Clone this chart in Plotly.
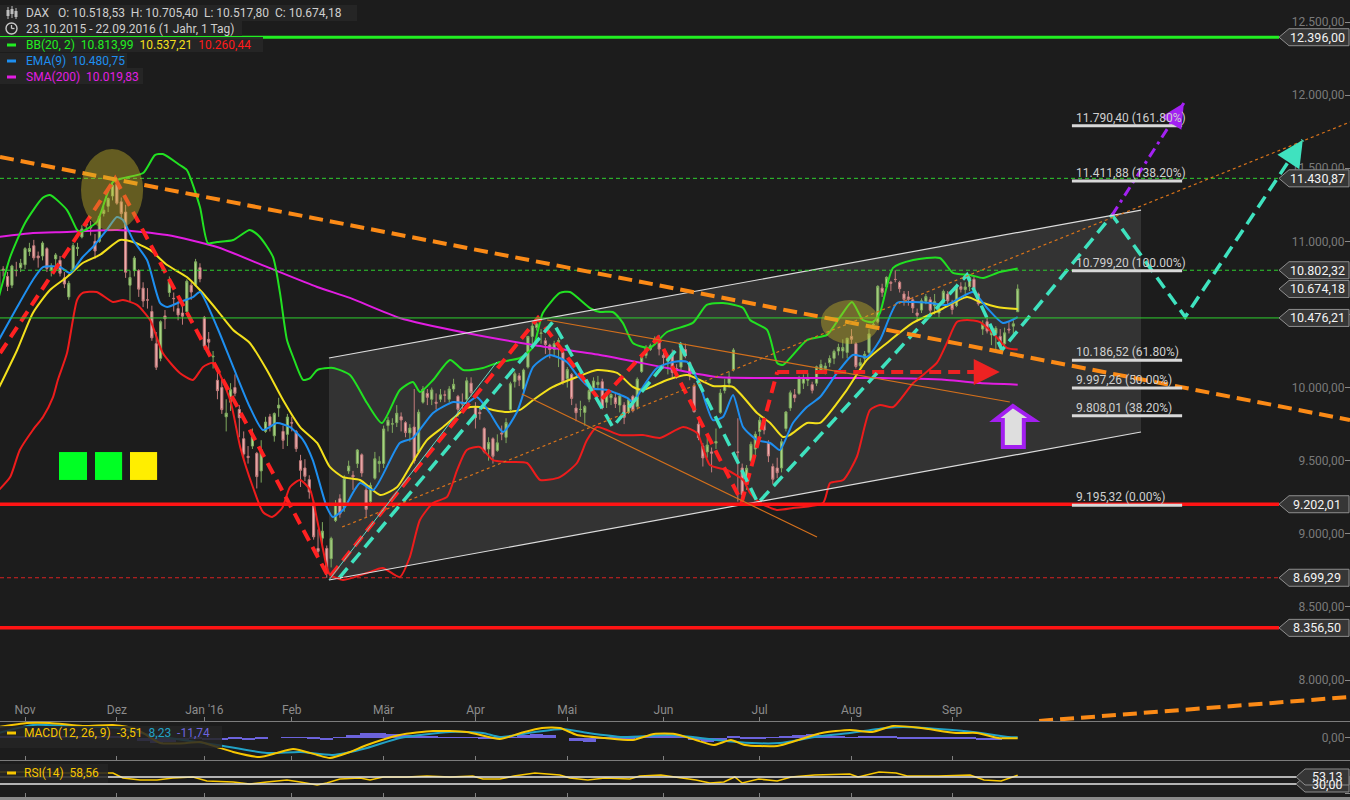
import plotly.graph_objects as go

W, H = 1350, 800
FONT = "Roboto"
BG = "#1c1c1c"

# ---------------- data ----------------
months_idx = [6, 27, 47, 67, 88, 109, 130, 152, 174, 195, 218]
months_lbl = ["Nov", "Dez", "Jan '16", "Feb", "Mär", "Apr", "Mai", "Jun", "Jul", "Aug", "Sep"]

opens = [
    10650, 10810, 10760, 10700, 10800, 10820,
    10840, 10930, 10970, 10900, 10900, 10950, 10800, 10880, 10870, 10750, 10620, 10800, 10950, 11030, 11110, 11100, 11000, 11000, 11190, 11240, 11310,
    11390, 11270, 11200, 10700, 10800, 10800, 10680, 10600, 10520, 10300, 10200, 10490, 10650, 10610, 10540, 10510, 10520, 10700, 10700, 10820,
    10480, 10330, 10210, 10050, 10000, 9800, 9900, 10000, 9850, 9650, 9530, 9600, 9550, 9430, 9700, 9800, 9670, 9860, 9700, 9680,
    9760, 9700, 9500, 9450, 9370, 9210, 8900, 8970, 8900, 8830, 9090, 9240, 9180, 9430, 9400, 9480, 9540, 9300, 9220, 9380, 9480,
    9480, 9740, 9750, 9760, 9800, 9760, 9690, 9730, 9560, 9900, 9960, 9920, 9900, 9920, 9950, 9920, 9990, 9940, 9900, 9920, 10030,
    9870, 9830, 9720, 9580, 9650, 9570, 9690, 9660, 9850, 10040, 10080, 9990, 10140, 10350, 10410, 10370, 10320, 10290, 10260, 10310, 10240,
    10060, 10090, 9860, 9850, 9830, 9920, 9990, 10020, 10040, 9900, 9930, 9930, 9880, 9880, 9830, 9940, 9870, 10110, 10220, 10260, 10310, 10320,
    10220, 10180, 10230, 10130, 10140, 10260, 10170, 10010, 9750, 9600, 9560, 9560, 9620, 9830, 9980, 10030, 10120, 9560, 9450, 9350, 9500, 9580,
    9700, 9770, 9620, 9460, 9450, 9450, 9720, 9860, 9950, 9960, 10030, 10050, 10020, 10030, 10120, 10130, 10170, 10200, 10250, 10250, 10240,
    10350, 10300, 10150, 10200, 10240, 10430, 10450, 10680, 10690, 10720, 10740, 10720, 10640, 10620, 10600, 10510, 10530, 10590, 10600, 10560, 10510, 10580, 10640,
    10570, 10560, 10690, 10670, 10690, 10740, 10640, 10400, 10450, 10360, 10370, 10350, 10300, 10400, 10420, 10518.53]
highs = [
    10850, 10830, 10790, 10840, 10860, 10880,
    10960, 10990, 11010, 10930, 11000, 10960, 10850, 10920, 10900, 10790, 10730, 10990, 10990, 11110, 11150, 11140, 11050, 11180, 11240, 11300, 11400,
    11431, 11300, 11250, 10800, 10900, 10810, 10720, 10680, 10560, 10380, 10460, 10530, 10760, 10650, 10590, 10560, 10740, 10720, 10880, 10850,
    10490, 10380, 10250, 10100, 10070, 9920, 10030, 10090, 9880, 9700, 9600, 9720, 9560, 9640, 9800, 9820, 9830, 9930, 9740, 9820,
    9800, 9710, 9540, 9510, 9400, 9230, 9030, 9080, 8920, 8980, 9230, 9270, 9400, 9500, 9430, 9580, 9550, 9320, 9350, 9560, 9530,
    9740, 9800, 9790, 9880, 9830, 9770, 9750, 9990, 9850, 10010, 9990, 10000, 9960, 9990, 9980, 10010, 10060, 9950, 9960, 10070, 10070,
    9900, 9870, 9730, 9660, 9660, 9680, 9740, 9790, 10040, 10110, 10100, 10130, 10350, 10450, 10476, 10400, 10340, 10300, 10320, 10340, 10260,
    10140, 10100, 9890, 9910, 9880, 10000, 10070, 10080, 10060, 9970, 9960, 9970, 9960, 9900, 9930, 9950, 10070, 10210, 10290, 10300, 10350, 10360,
    10240, 10220, 10260, 10160, 10310, 10300, 10180, 10030, 9800, 9620, 9660, 9590, 9720, 9990, 10060, 10110, 10270, 9790, 9480, 9470, 9630, 9700,
    9800, 9800, 9640, 9480, 9520, 9650, 9840, 9980, 9990, 10080, 10090, 10100, 10040, 10150, 10190, 10170, 10220, 10260, 10300, 10330, 10340,
    10400, 10310, 10200, 10250, 10400, 10460, 10700, 10710, 10760, 10730, 10802, 10730, 10660, 10660, 10620, 10540, 10610, 10640, 10620, 10640, 10560, 10670, 10660,
    10600, 10710, 10720, 10720, 10770, 10760, 10650, 10460, 10480, 10430, 10420, 10400, 10410, 10450, 10460, 10705.40]
lows = [
    10640, 10760, 10660, 10680, 10760, 10790,
    10810, 10900, 10870, 10820, 10870, 10790, 10760, 10830, 10760, 10680, 10600, 10790, 10900, 11020, 11070, 11040, 10880, 10990, 11170, 11200, 11280,
    11250, 11150, 10750, 10590, 10760, 10620, 10550, 10540, 10320, 10120, 10180, 10400, 10620, 10520, 10460, 10430, 10500, 10600, 10690, 10720,
    10260, 10230, 10130, 9920, 9820, 9700, 9840, 9940, 9660, 9500, 9480, 9580, 9310, 9350, 9690, 9700, 9630, 9800, 9580, 9600,
    9700, 9560, 9320, 9360, 9240, 8960, 8840, 8920, 8699, 8770, 9080, 9110, 9150, 9410, 9300, 9450, 9390, 9110, 9200, 9370, 9420,
    9450, 9700, 9690, 9730, 9700, 9660, 9630, 9480, 9550, 9890, 9880, 9880, 9850, 9900, 9900, 9900, 9970, 9800, 9840, 9910, 9940,
    9720, 9780, 9550, 9500, 9480, 9560, 9640, 9620, 9840, 10000, 10010, 9970, 10130, 10280, 10390, 10300, 10230, 10200, 10210, 10140, 10020,
    10000, 9880, 9770, 9800, 9740, 9900, 9960, 9990, 9850, 9860, 9880, 9860, 9830, 9750, 9820, 9830, 9850, 10100, 10200, 10250, 10290, 10220,
    10130, 10090, 10070, 10060, 10120, 10200, 10050, 9830, 9640, 9460, 9520, 9420, 9580, 9820, 9960, 10000, 10110, 9220, 9220, 9300, 9490, 9520,
    9650, 9680, 9490, 9340, 9380, 9420, 9700, 9840, 9900, 9950, 9990, 10010, 9960, 10010, 10110, 10090, 10140, 10160, 10220, 10200, 10200,
    10300, 10130, 10100, 10160, 10230, 10400, 10440, 10620, 10670, 10660, 10720, 10650, 10560, 10560, 10510, 10450, 10510, 10570, 10510, 10500, 10480, 10570, 10570,
    10500, 10550, 10650, 10640, 10660, 10650, 10560, 10360, 10370, 10290, 10250, 10260, 10290, 10370, 10360, 10517.80]
closes = [
    10794, 10801, 10692, 10831, 10800, 10850,
    10950, 10951, 10887, 10887, 10988, 10815, 10832, 10907, 10782, 10708, 10713, 10971, 10959, 11085, 11119, 11092, 10934, 11169, 11213, 11293, 11382,
    11261, 11190, 10789, 10752, 10886, 10673, 10592, 10598, 10340, 10139, 10450, 10470, 10738, 10608, 10497, 10488, 10727, 10653, 10860, 10743,
    10283, 10310, 10214, 9979, 9849, 9825, 9985, 9961, 9794, 9545, 9521, 9664, 9391, 9574, 9764, 9736, 9822, 9880, 9639, 9798,
    9757, 9582, 9434, 9393, 9286, 8979, 8880, 9018, 8752, 8967, 9206, 9135, 9377, 9463, 9389, 9573, 9416, 9167, 9331, 9513, 9495,
    9717, 9776, 9752, 9824, 9778, 9692, 9723, 9498, 9831, 9990, 9933, 9984, 9892, 9950, 9948, 9990, 10022, 9851, 9887, 10046, 9966,
    9794, 9822, 9563, 9624, 9530, 9622, 9682, 9761, 10026, 10094, 10051, 10120, 10350, 10421, 10435, 10373, 10294, 10260, 10300, 10322, 10039,
    10123, 9926, 9828, 9851, 9870, 9980, 10045, 10036, 9862, 9952, 9953, 9890, 9943, 9796, 9916, 9842, 10057, 10205, 10272, 10286, 10333, 10263,
    10205, 10209, 10103, 10121, 10288, 10217, 10088, 9834, 9657, 9519, 9607, 9551, 9631, 9962, 10015, 10071, 10257, 9557, 9268, 9448, 9612, 9680,
    9776, 9709, 9532, 9373, 9418, 9629, 9833, 9964, 9930, 10068, 10066, 10063, 9981, 10142, 10157, 10147, 10199, 10247, 10275, 10274, 10337,
    10330, 10144, 10170, 10228, 10367, 10432, 10692, 10651, 10754, 10713, 10739, 10676, 10603, 10603, 10544, 10494, 10593, 10622, 10529, 10587, 10544, 10657, 10593,
    10534, 10684, 10672, 10688, 10752, 10675, 10573, 10432, 10386, 10379, 10405, 10276, 10374, 10394, 10436, 10674.18]

# Bollinger(20,2) upper / middle / lower, EMA(9), SMA(200) (trading-day index, value)
bb_up_x = [0, 2.6, 6, 10, 11.7, 15.6, 17.9, 18.6, 22.4, 26.1, 33, 35.7, 37.5, 41.4, 43, 46, 47.8, 49.9, 53.6, 57.4, 59.7, 62.7, 64.3, 65.9, 67.3, 69.6, 71.2, 72.8, 76.4, 80.3, 84.2, 87.6, 91.7, 94.7, 96.3, 99.3, 103.2, 106.2, 110.7, 114.6, 119.2, 122.2, 124.4, 128.3, 130.6, 135.2, 137.5, 140.4, 142.7, 145, 148.9, 152.8, 158.7, 161.9, 165.6, 170.2, 171.8, 175.7, 178, 179.3, 184.8, 189.4, 192.4, 195.1, 197.6, 199.9, 201.5, 204.5, 209.1, 215.2, 218.2, 222.1, 225.1, 228.9, 233]
bb_up = [10619, 10893, 11126, 11296, 11317, 11214, 11078, 11064, 11132, 11406, 11467, 11590, 11597, 11522, 11488, 11235, 10988, 10995, 11009, 11078, 11030, 10893, 10647, 10325, 10209, 10052, 10065, 10120, 10134, 10086, 9894, 9757, 9983, 10038, 9970, 10052, 10189, 10120, 10134, 10175, 10202, 10277, 10510, 10647, 10654, 10544, 10517, 10517, 10442, 10305, 10271, 10380, 10442, 10565, 10578, 10544, 10462, 10394, 10168, 10154, 10325, 10360, 10483, 10585, 10462, 10448, 10510, 10818, 10872, 10886, 10784, 10770, 10749, 10790, 10814]
bb_mid_x = [0, 4.2, 7.8, 11.7, 15.6, 19.2, 23.1, 27.7, 30.7, 34.6, 38.5, 43, 46, 49.9, 53.6, 57.4, 61.3, 65, 68.9, 72.8, 75.7, 78.7, 82.6, 87.2, 91.1, 94, 97.9, 101.6, 107, 110, 113, 116.2, 119.2, 122.2, 126.7, 132.2, 136.8, 141.4, 145, 147.3, 152.8, 157.4, 160.3, 163.3, 167.9, 173.4, 176.4, 179.3, 180.9, 184.8, 187.8, 193.9, 198.5, 203.1, 209, 215.2, 221.4, 224.4, 228.3, 233]
bb_mid = [9997, 10257, 10510, 10667, 10756, 10852, 10907, 11009, 10995, 10941, 10838, 10756, 10667, 10530, 10394, 10305, 10120, 9915, 9730, 9621, 9457, 9388, 9368, 9265, 9320, 9457, 9641, 9730, 9860, 9867, 9847, 9833, 9847, 9915, 10004, 10072, 10120, 10100, 10004, 9983, 10052, 10086, 10052, 10011, 10004, 9826, 9758, 9662, 9675, 9758, 9758, 9983, 10189, 10305, 10442, 10530, 10619, 10585, 10551, 10537]
bb_lo_x = [0, 2.6, 4.8, 7.8, 10.1, 12.4, 13.5, 15.6, 17.9, 19.2, 22.4, 26.1, 28.4, 31.6, 34.6, 37.5, 41.4, 44.4, 46.7, 49, 52.9, 55.2, 58.1, 60.4, 62.5, 64.8, 66.6, 68.9, 71.2, 72.8, 75, 75.7, 78.7, 84.2, 87.8, 91.7, 94, 96.3, 99.3, 102.5, 104.8, 107, 110, 113, 116.2, 120.8, 123.8, 128.3, 132.2, 134.5, 136.8, 142, 147.3, 151.2, 156.5, 159.7, 162.6, 166.5, 170.2, 171.8, 174.1, 177.9, 181.6, 188.5, 190.1, 193.1, 196.2, 199.2, 201.5, 204.5, 209.1, 214.5, 216.8, 219.1, 221.4, 224.4, 227.3, 230.5, 233]
bb_lo = [9299, 9388, 9573, 9710, 9799, 9935, 10052, 10236, 10599, 10647, 10654, 10585, 10599, 10565, 10462, 10236, 10100, 10052, 10141, 10168, 9915, 9594, 9320, 9149, 9115, 9176, 9320, 9368, 9299, 9094, 8773, 8720, 8684, 8732, 8766, 8704, 8841, 9094, 9211, 9252, 9436, 9573, 9594, 9504, 9491, 9484, 9368, 9388, 9484, 9641, 9730, 9675, 9675, 9655, 9730, 9689, 9470, 9436, 9368, 9279, 9211, 9163, 9176, 9211, 9347, 9368, 9525, 9846, 9881, 9867, 10031, 10168, 10305, 10448, 10462, 10448, 10373, 10271, 10260]
ema_x = [0, 4.2, 7.8, 10.1, 14, 16.3, 19.2, 21.5, 24.7, 27, 28.4, 30.7, 33.9, 36.9, 38.5, 41.4, 44.4, 46, 49.9, 53.6, 57.4, 60.4, 63.6, 66.6, 69.6, 71.8, 75, 76.4, 78.7, 82.6, 85.6, 91.7, 94.7, 99.3, 103.9, 107, 109.3, 112.3, 115.3, 118.5, 122.2, 126, 129.9, 132.2, 135.2, 139.1, 143.7, 145, 147.3, 150.5, 154.2, 157.4, 160.3, 163.3, 165.6, 167.9, 170.2, 173.4, 176.4, 178.6, 181.6, 184.8, 187.8, 191.7, 195.3, 198.5, 201.5, 205.4, 209.1, 213, 216.8, 219.8, 222.8, 226, 229.6, 233]
ema = [10325, 10551, 10736, 10824, 10824, 10783, 10893, 10961, 11078, 11167, 11146, 11009, 10872, 10578, 10551, 10585, 10619, 10654, 10414, 10141, 9867, 9710, 9757, 9730, 9641, 9504, 9183, 9115, 9163, 9347, 9299, 9621, 9655, 9826, 9901, 9894, 9935, 9826, 9696, 9833, 10141, 10223, 10175, 10086, 9997, 9983, 9929, 9901, 10004, 10134, 10175, 10175, 10018, 9778, 9798, 9949, 9730, 9641, 9621, 9573, 9758, 9867, 9935, 10100, 10223, 10209, 10325, 10578, 10585, 10578, 10565, 10613, 10654, 10544, 10442, 10481]
sma_x = [0, 7.8, 15.6, 27, 38.5, 49.9, 61.3, 72.8, 80.3, 91.7, 107, 122.2, 137.5, 152.8, 164.2, 178.6, 201.5, 216.8, 224.4, 233]
sma = [11030, 11057, 11064, 11078, 11043, 10961, 10825, 10688, 10613, 10476, 10373, 10291, 10223, 10134, 10072, 10065, 10065, 10052, 10031, 10020]

# MACD(12,26,9)
macd_x = [0, 6.4, 11.7, 19.2, 26.1, 30.7, 33, 36.9, 43, 46, 49.9, 53.6, 59.7, 63.6, 67.3, 72.8, 75.7, 80.3, 84.2, 91.7, 99.3, 107, 114.6, 119.4, 124.2, 128.3, 132.2, 138.6, 145, 149.8, 154.6, 159.4, 163.5, 167.4, 170.6, 178, 182.8, 188.2, 194.6, 199.7, 204.5, 210.9, 218.9, 223.7, 228.5, 233]
macd = [146, 200, 200, 160, 173, 133, 67, -67, -67, -53, -120, -186, -253, -200, -146, -226, -266, -186, -93, 40, 93, 80, -13, 67, 133, 133, 40, 0, -27, 53, 53, -27, -93, -27, -93, -106, -27, 67, 106, 80, 160, 133, 67, 67, 0, -3.51]
sig_x = [0, 7.8, 15.6, 27, 34.6, 42.1, 49.9, 61.3, 68.9, 76.4, 84.2, 91.7, 103.2, 110.7, 114.6, 122.6, 129, 134.7, 142.7, 153, 158.7, 164.2, 172.2, 178.6, 186.6, 194.6, 202.9, 206.8, 214.8, 222.8, 230.8, 233]
signal = [67, 173, 160, 133, 40, -27, -93, -200, -186, -226, -133, 0, 80, 67, 13, 80, 120, 67, 13, 40, 13, -27, -67, -67, 13, 67, 133, 146, 120, 80, 13, 8.23]
hist_x = list(range(0, 234, 3))
hist = [20, 27, 33, 40, 40, 33, 27, 20, 27, 20,
        0, -40, -67, -53, -33, -20, -27, -27, -20, -27,
        -20, 0, 13, 7, -20, -27, 7, 40, 60, 67,
        53, 40, 27, 20, 13, 13, 7, -7, -13, 13,
        40, 53, 40, 0, -40, -53, -20, -13, -7, 13,
        20, 27, 20, -27, -53, -40, 27, -13, -7, 7,
        27, 40, 53, 40, 27, 13, 20, 27, 27, -7,
        -7, -7, -7, -13, -20, -27, -27, -12]

# RSI(14)
rsi_x = [0, 7.8, 15.6, 23.1, 26.1, 28.4, 32.3, 36.2, 39.8, 44.4, 47.6, 53.6, 57.4, 61.3, 65.9, 68.9, 72.8, 75, 78, 82.6, 84.9, 87.9, 93.3, 97.9, 103.2, 108.4, 110.7, 114.6, 117.8, 122.6, 128.3, 130.6, 134.7, 138.6, 144.3, 146.6, 151.4, 154.6, 159.4, 162.6, 165.8, 168.3, 170, 173.8, 178, 181.2, 186.6, 194.6, 196.5, 201.3, 205.2, 207.7, 214.8, 222.1, 225.3, 229.2, 233]
rsi = [69.6, 69.6, 66.3, 66.3, 66.3, 49.8, 43.2, 43.2, 49.8, 53.1, 39.9, 36.6, 30, 36.6, 43.2, 36.6, 26.7, 33.3, 46.5, 49.8, 43.2, 53.1, 53.1, 56.4, 53.1, 56.4, 46.5, 46.5, 56.4, 66.3, 59.7, 49.8, 43.2, 49.8, 46.5, 56.4, 59.7, 53.1, 43.2, 33.3, 36.6, 53.1, 33.3, 46.5, 39.9, 53.1, 59.7, 63, 53.1, 69.6, 66.3, 56.4, 56.4, 59.7, 43.2, 39.9, 58.56]
rsi_levels = [30.0, 53.13]
rsi_level_lbl = ["30,00", "53,13"]

# drawn analysis: price swings (index, price)
red_zz_x = [0.3, 26.6, 75.5, 123.3, 137.5, 150.7, 169.9, 178]
red_zz_y = [10236, 11430, 8699, 10476, 9908, 10339, 9217, 10106]
red_arrow_end = (228.9, 10106)
teal_zz_x = [77.8, 126.7, 140.4, 155.8, 173.6, 221.4, 229.4, 254.6, 271.3, 298.2]
teal_zz_y = [8697, 10448, 9730, 10291, 9210, 10770, 10257, 11180, 10483, 11693]
purple_x = [254.6, 271.0]
purple_y = [11180, 11946]

# horizontal levels with price tags
levels = [12396.00, 11430.87, 10802.32, 10674.18, 10476.21, 9202.01, 8699.29, 8356.50]
level_lbl = ["12.396,00", "11.430,87", "10.802,32", "10.674,18", "10.476,21", "9.202,01", "8.699,29", "8.356,50"]

# Fibonacci levels
fib_vals = [11790.40, 11411.88, 10799.20, 10186.52, 9997.26, 9808.01, 9195.32]
fib_lbl = ["11.790,40 (161.80%)", "11.411,88 (138.20%)", "10.799,20 (100.00%)", "10.186,52 (61.80%)",
           "9.997,26 (50.00%)", "9.808,01 (38.20%)", "9.195,32 (0.00%)"]

y_ticks = [8000, 8500, 9000, 9500, 10000, 10500, 11000, 11500, 12000, 12500]
y_tick_lbl = ["8.000,00", "8.500,00", "9.000,00", "9.500,00", "10.000,00", "10.500,00",
              "11.000,00", "11.500,00", "12.000,00", "12.500,00"]

# ---------------- helpers ----------------
X_RANGE = [0.274, 308.99]
Y_MAIN = [7719.6, 12650.5]
Y_MACD = [-293, 226]
Y_RSI = [-12.9, 109.2]
PT_PER_PX = 6.839


def px(x):
    return x / W


def py(y):
    return 1 - y / H


shapes = []
anns = []


def seg(x0, y0, x1, y1, color, width=1.0, dash=None, xref="x", yref="y", layer="above"):
    ln = dict(color=color, width=width)
    if dash:
        ln["dash"] = dash
    shapes.append(dict(type="line", x0=x0, y0=y0, x1=x1, y1=y1, xref=xref, yref=yref, line=ln, layer=layer))


def rect(x0, y0, x1, y1, fill, xref="paper", yref="paper", layer="above", lw=0, lc=None):
    shapes.append(dict(type="rect", x0=x0, y0=y0, x1=x1, y1=y1, xref=xref, yref=yref,
                       fillcolor=fill, line=dict(width=lw, color=lc or fill), layer=layer))


def text(x, y, t, color="#cfcfcf", size=12, xanchor="left", xref="paper", yref="paper", yanchor="middle", **kw):
    d = dict(x=x, y=y, xref=xref, yref=yref, text=t, showarrow=False, xanchor=xanchor, yanchor=yanchor,
             font=dict(family=FONT, size=size, color=color))
    d.update(kw)
    anns.append(d)


def arrow(tip, back, color, width, size=1.3):
    anns.append(dict(x=tip[0], y=tip[1], ax=back[0], ay=back[1], xref="x", yref="y", axref="x", ayref="y",
                     text="", showarrow=True, arrowhead=2, arrowsize=size, arrowwidth=width,
                     arrowcolor=color, standoff=0))


# ---------------- figure ----------------
fig = go.Figure()
n = min(len(opens), len(highs), len(lows), len(closes))
days = list(range(n))

fig.add_trace(go.Candlestick(
    x=days, open=opens[:n], high=highs[:n], low=lows[:n], close=closes[:n],
    xaxis="x", yaxis="y", whiskerwidth=0,
    increasing=dict(line=dict(color="#7fa95e", width=1), fillcolor="#a9d585"),
    decreasing=dict(line=dict(color="#c27c7c", width=1), fillcolor="#efb0b0"),
    hoverinfo="skip", showlegend=False))


def ind(x, y, color, width=2.0):
    fig.add_trace(go.Scatter(x=x, y=y, mode="lines", xaxis="x", yaxis="y", hoverinfo="skip",
                             line=dict(color=color, width=width, shape="spline", smoothing=0.6)))


ind(sma_x, sma, "#e21de2")
ind(bb_up_x, bb_up, "#22e122")
ind(bb_lo_x, bb_lo, "#ee1c1c")
ind(bb_mid_x, bb_mid, "#f3e01c")
ind(ema_x, ema, "#1e8ff0")

# swing lines
fig.add_trace(go.Scatter(x=red_zz_x, y=red_zz_y, mode="lines", xaxis="x", yaxis="y", hoverinfo="skip",
                         line=dict(color="#ff2121", width=4, dash="12px,7px")))
fig.add_trace(go.Scatter(x=[red_zz_x[-1], red_arrow_end[0] - 2], y=[red_zz_y[-1], red_arrow_end[1]], mode="lines",
                         xaxis="x", yaxis="y", hoverinfo="skip",
                         line=dict(color="#ee2222", width=4, dash="12px,7px")))
fig.add_trace(go.Scatter(x=teal_zz_x, y=teal_zz_y, mode="lines", xaxis="x", yaxis="y", hoverinfo="skip",
                         line=dict(color="#3fe2bf", width=3.5, dash="13px,7px")))
fig.add_trace(go.Scatter(x=purple_x, y=purple_y, mode="lines", xaxis="x", yaxis="y", hoverinfo="skip",
                         line=dict(color="#a321f2", width=3, dash="10px,5px,3px,5px")))

# MACD panel
fig.add_trace(go.Bar(x=hist_x, y=hist, width=3, xaxis="x2", yaxis="y2", hoverinfo="skip",
                     marker=dict(color="#6c63dc", line=dict(width=0))))
fig.add_trace(go.Scatter(x=sig_x, y=signal, mode="lines", xaxis="x2", yaxis="y2", hoverinfo="skip",
                         line=dict(color="#22a2c6", width=2, shape="spline", smoothing=0.6)))
fig.add_trace(go.Scatter(x=macd_x, y=macd, mode="lines", xaxis="x2", yaxis="y2", hoverinfo="skip",
                         line=dict(color="#f7c600", width=2, shape="spline", smoothing=0.6)))
# RSI panel
fig.add_trace(go.Scatter(x=rsi_x, y=rsi, mode="lines", xaxis="x3", yaxis="y3", hoverinfo="skip",
                         line=dict(color="#f7c600", width=1.6)))

# ---------- channel (below traces) ----------
ch = dict(x0=75.5, x1=261.2, top0=10202, top1=11214, bot0=8684, bot1=9696)
shapes.append(dict(type="path", xref="x", yref="y", layer="below",
                   path=f"M {ch['x0']},{ch['top0']} L {ch['x1']},{ch['top1']} L {ch['x1']},{ch['bot1']} L {ch['x0']},{ch['bot0']} Z",
                   fillcolor="rgba(255,255,255,0.10)", line=dict(width=0)))
seg(ch["x0"], ch["top0"], ch["x1"], ch["top1"], "#dcdcdc", 1.2)
seg(ch["x0"], ch["bot0"], ch["x1"], ch["bot1"], "#dcdcdc", 1.2)

# horizontal levels
TAG_TIP = px(1279)
seg(0, 12396.00, TAG_TIP, 12396.00, "#22ee22", 3, xref="paper")
seg(0, 11430.87, TAG_TIP, 11430.87, "#2fcf2f", 1, "4px,3px", xref="paper")
seg(0, 10802.32, TAG_TIP, 10802.32, "#2fcf2f", 1, "4px,3px", xref="paper")
seg(0, 10476.21, TAG_TIP, 10476.21, "#2fcf2f", 1, xref="paper")
seg(0, 9202.01, TAG_TIP, 9202.01, "#ff1414", 3.5, xref="paper")
seg(0, 8699.29, TAG_TIP, 8699.29, "#d82020", 1, "4px,3px", xref="paper")
seg(0, 8356.50, TAG_TIP, 8356.50, "#ff1414", 3.5, xref="paper")

# trend lines
seg(0.274, 11577, 308.99, 9778, "#fb8a16", 4, "14px,7px")
seg(237.9, 7720, 308.99, 7884, "#fb8a16", 4, "14px,7px")
seg(78.5, 9046, 308.99, 11816, "#d8731a", 1.2, "3px,3px")
seg(125.4, 10462, 231.2, 9901, "#d4701c", 1.2)
seg(119.6, 9956, 187.1, 8978, "#d4701c", 1.2)
seg(75.5, 8684, 113.9, 10175, "#63d8c6", 1)

# ellipses
shapes.append(dict(type="circle", xref="x", yref="y", x0=18.8, x1=33.0, y0=11071, y1=11631,
                   fillcolor="rgba(200,180,40,0.42)", line=dict(width=0), layer="above"))
shapes.append(dict(type="circle", xref="x", yref="y", x0=188.0, x1=201.3, y0=10298, y1=10599,
                   fillcolor="rgba(200,180,40,0.42)", line=dict(width=0), layer="above"))

# coloured squares
rect(13.77, 9368, 20.17, 9559, "#00ff24", xref="x", yref="y")
rect(22.0, 9368, 28.2, 9559, "#00ff24", xref="x", yref="y")
rect(30.0, 9368, 36.2, 9559, "#ffee00", xref="x", yref="y")

# purple block arrow
shapes.append(dict(type="path", xref="x", yref="y", layer="above",
                   path="M 231.9,9874 L 236.7,9778 L 234.4,9778 L 234.4,9594 L 229.6,9594 L 229.6,9778 L 227.8,9778 Z",
                   fillcolor="#dedede", line=dict(color="#a31ff0", width=4)))

# arrowheads
arrow((298.2, 11693), (295.0, 11548), "#3fe2bf", 3.5, 1.5)
arrow((271.0, 11946), (269.0, 11850), "#a321f2", 3, 1.6)
arrow(red_arrow_end, (224.0, red_arrow_end[1]), "#ee2222", 4, 1.3)

# Fibonacci bars + labels
for v, lbl in zip(fib_vals, fib_lbl):
    seg(245.4, v, 270.6, v, "#d8d8d8", 3)
    text(245.4, v, lbl, "#cfcfcf", 12, xref="x", yref="y", yanchor="bottom", xshift=2, yshift=-1)

# price tags on right
hh = 8.5 * PT_PER_PX
for v, lbl in zip(levels, level_lbl):
    shapes.append(dict(type="path", xref="paper", yref="y", layer="above",
                       path=f"M {px(1279)},{v} L {px(1289)},{v + hh} L {px(1349)},{v + hh} L {px(1349)},{v - hh} L {px(1289)},{v - hh} Z",
                       fillcolor="#363636", line=dict(color="#8e8e8e", width=1)))
    text(px(1317), v, lbl, "#f4f4f4", 12.5, xanchor="center", yref="y")

# RSI levels & tags
hr = 8 * 3.3
for v, lbl in zip(rsi_levels, rsi_level_lbl):
    seg(0, v, px(1296), v, "#e6e6e6", 1.3, xref="paper", yref="y3")
    shapes.append(dict(type="path", xref="paper", yref="y3", layer="above",
                       path=f"M {px(1296)},{v} L {px(1305)},{v + hr} L {px(1349)},{v + hr} L {px(1349)},{v - hr} L {px(1305)},{v - hr} Z",
                       fillcolor="#363636", line=dict(color="#8e8e8e", width=1)))
    text(px(1327), v, lbl, "#f4f4f4", 12.5, xanchor="center", yref="y3")

# bottom grey strip
rect(0, 0, 1, py(797), "#8a8a8a")

# ---------- legends ----------
BOX = "rgba(38,38,38,0.92)"
rect(0, py(21), px(357), py(5), BOX)
rect(0, py(36), px(242), py(21), BOX)
rect(0, py(52), px(263), py(37), BOX)
rect(0, py(68), px(127), py(53), BOX)
rect(0, py(84), px(143), py(68), BOX)

# candle icon
for cx, top, bot, b0, b1 in [(8, 7, 19, 10, 16), (12, 6, 18, 9, 14), (16, 8, 19, 11, 17)]:
    seg(px(cx), py(top), px(cx), py(bot), "#bdbdbd", 1, xref="paper", yref="paper")
    rect(px(cx - 1.5), py(b1), px(cx + 1.5), py(b0), "#bdbdbd")
# clock icon
shapes.append(dict(type="circle", xref="paper", yref="paper", x0=px(6), x1=px(17), y0=py(34), y1=py(23),
                   line=dict(color="#c8c8c8", width=1.4), layer="above"))
seg(px(11.5), py(28.5), px(11.5), py(25), "#c8c8c8", 1.3, xref="paper", yref="paper")
seg(px(11.5), py(28.5), px(14.5), py(28.5), "#c8c8c8", 1.3, xref="paper", yref="paper")

NB = "\u00a0"
text(px(24), py(13), f"DAX{NB*3}O: 10.518,53{NB*2}H: 10.705,40{NB*2}L: 10.517,80{NB*2}C: 10.674,18", "#cfcfcf")
text(px(24), py(29), "23.10.2015 - 22.09.2016 (1 Jahr, 1 Tag)", "#cfcfcf")

for yy, col in [(45, "#22ee22"), (61, "#1e8ff0"), (77, "#e21de2")]:
    seg(px(7), py(yy), px(16), py(yy), col, 3, xref="paper", yref="paper")
text(px(24), py(45), f"BB(20, 2){NB*2}10.813,99{NB*2}<span style='color:#f3e01c'>10.537,21</span>{NB*2}"
                     f"<span style='color:#ff1a1a'>10.260,44</span>", "#22ee22")
text(px(24), py(61), f"EMA(9){NB*2}10.480,75", "#1e8ff0")
text(px(24), py(77), f"SMA(200){NB*2}10.019,83", "#e21de2")

# MACD / RSI legends
rect(0, py(748), px(222), py(726), "rgba(36,36,36,0.85)")
seg(px(7), py(733), px(16), py(733), "#f7c600", 3, xref="paper", yref="paper")
text(px(22), py(733), f"MACD(12, 26, 9){NB*2}-3,51{NB*2}<span style='color:#22a2c6'>8,23</span>{NB*2}"
                      f"<span style='color:#6c63dc'>-11,74</span>", "#f7c600")
rect(0, py(783), px(108), py(764), "rgba(36,36,36,0.85)")
seg(px(7), py(773), px(16), py(773), "#f7c600", 3, xref="paper", yref="paper")
text(px(22), py(773), f"RSI(14){NB*2}58,56", "#f7c600")

# ---------- layout ----------
axis_common = dict(showgrid=False, zeroline=False)
fig.update_layout(
    width=W, height=H, margin=dict(l=0, r=0, t=0, b=0),
    paper_bgcolor=BG, plot_bgcolor=BG, showlegend=False, hovermode=False, bargap=0,
    font=dict(family=FONT, size=12, color="#8a8a8a"),
    xaxis=dict(domain=[0, 1], anchor="y", range=X_RANGE, tickmode="array", tickvals=months_idx,
               ticktext=months_lbl, ticks="inside", ticklen=4, tickcolor="#808080",
               ticklabelposition="inside", tickfont=dict(family=FONT, size=12, color="#8c8c8c"),
               showline=True, linecolor="#7c7c7c", linewidth=1, rangeslider=dict(visible=False), **axis_common),
    yaxis=dict(domain=[1 - 721 / H, 1], anchor="x", range=Y_MAIN, side="right", tickmode="array",
               tickvals=y_ticks, ticktext=y_tick_lbl, ticks="inside", ticklen=5, tickcolor="#8a8a8a",
               ticklabelposition="inside", tickfont=dict(family=FONT, size=12, color="#7a7a7a"),
               showline=False, **axis_common),
    xaxis2=dict(domain=[0, 1], anchor="y2", range=X_RANGE, tickmode="array", tickvals=months_idx,
                showticklabels=False, ticks="inside", ticklen=4, tickcolor="#808080",
                showline=True, linecolor="#7c7c7c", linewidth=1, **axis_common),
    yaxis2=dict(domain=[1 - 760 / H, 1 - 721 / H], anchor="x2", range=Y_MACD, side="right", tickmode="array",
                tickvals=[0], ticktext=["0,00"], ticks="inside", ticklen=5, tickcolor="#8a8a8a",
                ticklabelposition="inside", tickfont=dict(family=FONT, size=12, color="#7a7a7a"),
                showline=False, **axis_common),
    xaxis3=dict(domain=[0, 1], anchor="y3", range=X_RANGE, tickmode="array", tickvals=months_idx,
                showticklabels=False, ticks="inside", ticklen=4, tickcolor="#808080",
                showline=False, **axis_common),
    yaxis3=dict(domain=[1 - 797 / H, 1 - 760 / H], anchor="x3", range=Y_RSI, side="right", tickmode="array",
                tickvals=[0], ticktext=["0,00"], ticks="inside", ticklen=5, tickcolor="#8a8a8a",
                ticklabelposition="inside", tickfont=dict(family=FONT, size=12, color="#7a7a7a"),
                showline=False, **axis_common),
    shapes=shapes, annotations=anns,
)

fig.write_html("out.html", include_plotlyjs=True, config={"displayModeBar": False},
               post_script="document.body.style.margin='0';document.body.style.overflow='hidden';")
